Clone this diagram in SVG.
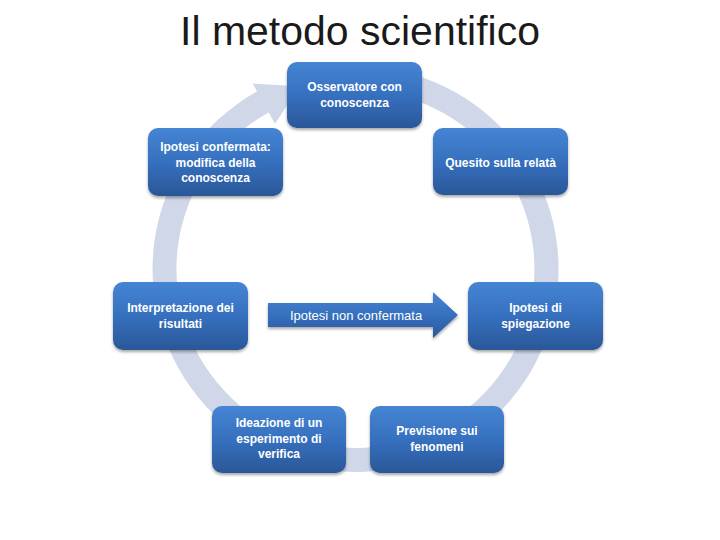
<svg xmlns="http://www.w3.org/2000/svg" width="720" height="540" viewBox="0 0 720 540">
<defs>
<linearGradient id="blue" x1="0" y1="0" x2="0" y2="1">
<stop offset="0" stop-color="#4585d3"/>
<stop offset="0.5" stop-color="#3670bf"/>
<stop offset="1" stop-color="#2a5798"/>
</linearGradient>
<filter id="sh" x="-10%" y="-10%" width="120%" height="130%">
<feDropShadow dx="0" dy="2" stdDeviation="1.5" flood-color="#000" flood-opacity="0.35"/>
</filter>
<style>
.box{fill:url(#blue);filter:url(#sh)}
.t{font-family:"Liberation Sans",Arial,sans-serif;font-size:12px;font-weight:bold;fill:#ffffff;text-anchor:middle}
.ring{fill:#cfd7e8}
</style>
</defs>
<rect width="720" height="540" fill="#ffffff"/>
<text x="360" y="45" font-family="Liberation Sans, Arial, sans-serif" font-size="40" fill="#1a1a1a" text-anchor="middle" textLength="360" lengthAdjust="spacingAndGlyphs">Il metodo scientifico</text>
<g id="connectors">
<path class="ring" d="M390.7,69.1 A203,203 0 1 1 257.1,91.5 L252.7,83.6 L299.7,86.3 L275,123.8 L268.7,112.4 A179,179 0 1 0 386.6,92.7 Z"/>
</g>
<g id="n-osservatore">
<rect class="box" x="287" y="62" width="135" height="66" rx="10"/>
<text class="t" x="354.5" y="91">Osservatore con</text>
<text class="t" x="354.5" y="107">conoscenza</text>
</g>
<g id="n-quesito">
<rect class="box" x="433" y="128" width="135" height="67" rx="10"/>
<text class="t" x="500.5" y="167">Quesito sulla relatà</text>
</g>
<g id="n-spiegazione">
<rect class="box" x="468" y="282" width="135" height="68" rx="10"/>
<text class="t" x="535.5" y="312">Ipotesi di</text>
<text class="t" x="535.5" y="328">spiegazione</text>
</g>
<g id="n-previsione">
<rect class="box" x="370" y="406" width="134" height="67" rx="10"/>
<text class="t" x="437" y="435">Previsione sui</text>
<text class="t" x="437" y="451">fenomeni</text>
</g>
<g id="n-ideazione">
<rect class="box" x="212" y="406" width="134" height="67" rx="10"/>
<text class="t" x="279" y="427">Ideazione di un</text>
<text class="t" x="279" y="443">esperimento di</text>
<text class="t" x="279" y="458">verifica</text>
</g>
<g id="n-interpretazione">
<rect class="box" x="113" y="282" width="135" height="68" rx="10"/>
<text class="t" x="180.5" y="312">Interpretazione dei</text>
<text class="t" x="180.5" y="328">risultati</text>
</g>
<g id="n-confermata">
<rect class="box" x="148" y="128" width="135" height="68" rx="10"/>
<text class="t" x="215.5" y="151">Ipotesi confermata:</text>
<text class="t" x="215.5" y="167">modifica della</text>
<text class="t" x="215.5" y="182">conoscenza</text>
</g>
<g id="n-nonconfermata">
<path class="box" d="M268,303 L433,303 L433,292 L458,315 L433,338 L433,327 L268,327 Z"/>
<text x="356" y="320" font-family="Liberation Sans, Arial, sans-serif" font-size="13" fill="#ffffff" text-anchor="middle">Ipotesi non confermata</text>
</g>
</svg>
